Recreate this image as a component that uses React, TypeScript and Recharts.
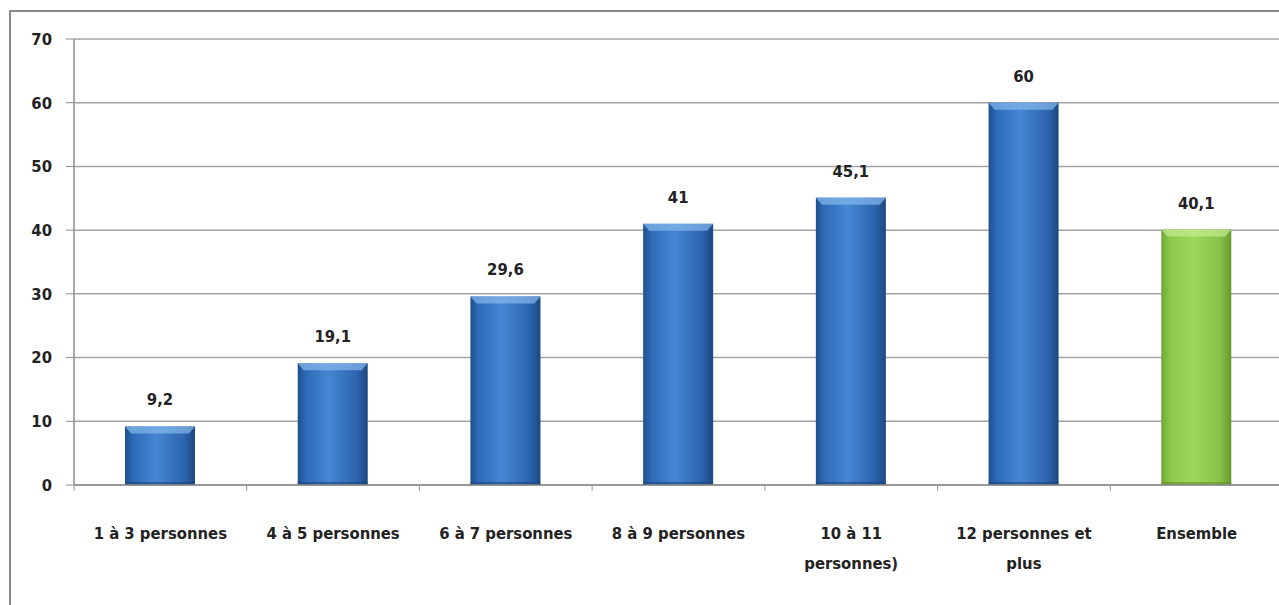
import React from "react";
import { BarChart, Bar, XAxis, YAxis, CartesianGrid, LabelList, Cell } from "recharts";

const categories = [
  "1 à 3 personnes",
  "4 à 5 personnes",
  "6 à 7 personnes",
  "8 à 9 personnes",
  "10 à 11\npersonnes)",
  "12 personnes et\nplus",
  "Ensemble",
];
const values = [9.2, 19.1, 29.6, 41, 45.1, 60, 40.1];
const isTotal = [false, false, false, false, false, false, true];
const yTicks = [0, 10, 20, 30, 40, 50, 60, 70];

const data = categories.map((c, i) => ({ name: c, value: values[i], total: isTotal[i] }));

const FONT = "'Liberation Sans Narrow', 'DejaVu Sans Condensed', 'Open Sans', sans-serif";
const FS = 16.5;

const BarShape = (props: any) => {
  const { x, y, width, height, payload } = props;
  if (!height || height <= 0) return null;
  const green = payload && payload.total;
  const grad = green ? "url(#gGreen)" : "url(#gBlue)";
  const topC = green ? "#c3ec92" : "#86b9ee";
  const bev = Math.min(7, height / 2);
  return (
    <g>
      <rect x={x} y={y} width={width} height={height} fill={grad} />
      <path
        d={`M${x},${y} L${x + width},${y} L${x + width - 6},${y + bev} L${x + 6},${y + bev} Z`}
        fill={topC}
        opacity={0.7}
      />
      <rect x={x} y={y + height - 3} width={width} height={3} fill={green ? "#5f8f2c" : "#1d4478"} opacity={0.6} />
    </g>
  );
};

const XTick = (props: any) => {
  const { x, y, payload } = props;
  const lines = String(payload.value).split("\n");
  const off = payload.offset || 0;
  return (
    <g>
      <line x1={x - off} x2={x - off} y1={y - 8} y2={y - 2} stroke="#9a9a9a" strokeWidth={1} />
      <text x={x} y={y + 46} textAnchor="middle" fill="#222" fontFamily={FONT} fontWeight="bold" fontSize={FS}>
        {lines.map((l, i) => (
          <tspan key={i} x={x} dy={i === 0 ? 0 : 30}>
            {l}
          </tspan>
        ))}
      </text>
    </g>
  );
};

export default function App() {
  return (
    <div style={{ position: "fixed", left: 0, top: 0, width: 1279, height: 605, overflow: "hidden", background: "#fff" }}>
      <div
        style={{
          position: "absolute",
          left: 9,
          top: 10,
          width: 1400,
          height: 700,
          border: "2px solid #8a8a8a",
          boxSizing: "border-box",
        }}
      />
      <div style={{ position: "absolute", left: 0, top: 0 }}>
        <BarChart
          width={1300}
          height={605}
          data={data}
          margin={{ top: 39, right: 17, left: 0, bottom: 20 }}
          barCategoryGap="20%"
        >
          <defs>
            <linearGradient id="gBlue" x1="0" y1="0" x2="1" y2="0">
              <stop offset="0%" stopColor="#1f4f8f" />
              <stop offset="12%" stopColor="#2f6bb8" />
              <stop offset="45%" stopColor="#4686d2" />
              <stop offset="85%" stopColor="#2c63ad" />
              <stop offset="100%" stopColor="#1c477f" />
            </linearGradient>
            <linearGradient id="gGreen" x1="0" y1="0" x2="1" y2="0">
              <stop offset="0%" stopColor="#6fa535" />
              <stop offset="12%" stopColor="#8cc84a" />
              <stop offset="45%" stopColor="#9ed85b" />
              <stop offset="85%" stopColor="#86c047" />
              <stop offset="100%" stopColor="#66992f" />
            </linearGradient>
          </defs>
          <CartesianGrid vertical={false} stroke="#a3a3a3" strokeWidth={1.5} />
          <XAxis
            dataKey="name"
            interval={0}
            height={100}
            axisLine={{ stroke: "#8c8c8c", strokeWidth: 1.5 }}
            tickLine={false}
            tick={<XTick />}
          />
          <YAxis
            width={74}
            domain={[0, 70]}
            ticks={yTicks}
            interval={0}
            axisLine={{ stroke: "#8c8c8c", strokeWidth: 1.5 }}
            tickLine={{ stroke: "#8c8c8c" }}
            tickSize={8}
            tickMargin={14}
            tick={{ fill: "#222", fontFamily: FONT, fontWeight: "bold", fontSize: FS }}
          />
          <Bar dataKey="value" isAnimationActive={false} barSize={70} shape={<BarShape />}>
            {data.map((d, i) => (
              <Cell key={i} fill={d.total ? "#92d050" : "#3a78c4"} />
            ))}
            <LabelList
              dataKey="value"
              position="top"
              offset={21}
              formatter={(v: any) => String(v).replace(".", ",")}
              style={{ fill: "#222", fontFamily: FONT, fontWeight: "bold", fontSize: FS }}
            />
          </Bar>
        </BarChart>
      </div>
    </div>
  );
}
